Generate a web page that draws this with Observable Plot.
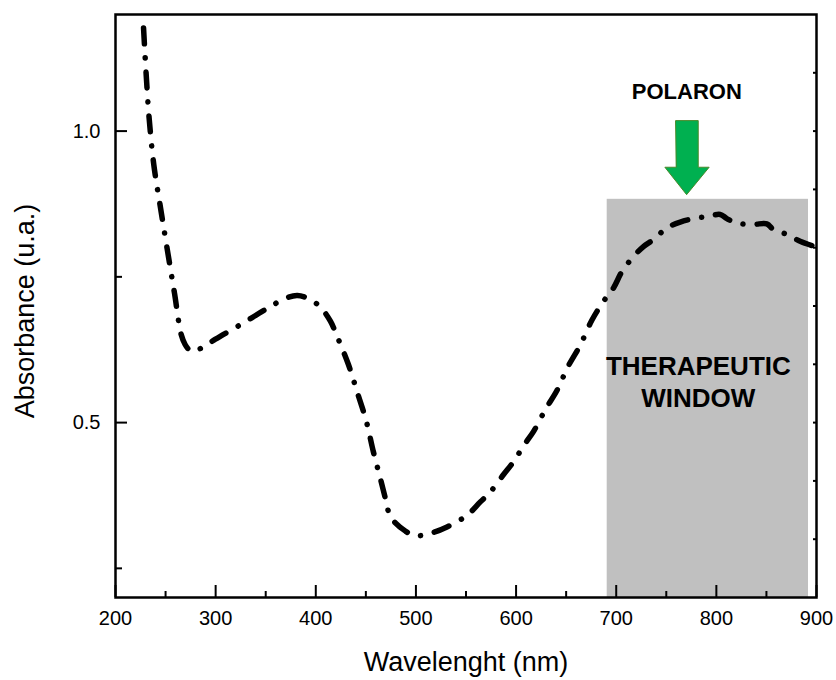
<!DOCTYPE html>
<html>
<head>
<meta charset="utf-8">
<script src="https://cdn.jsdelivr.net/npm/d3@7"></script>
<script src="https://cdn.jsdelivr.net/npm/@observablehq/plot@0.6"></script>
<style>
  body { margin: 0; background: #fff; }
  #chart svg { font-family: "Liberation Sans", Arial, sans-serif; }
</style>
</head>
<body>
<div id="chart"></div>
<script>
// Absorbance spectrum
const wavelength = [228, 230.6, 233.6, 238.2, 244.9, 251.6, 258.9, 265.6, 269.5, 273.5, 277.5, 284.8, 299.8, 324.8, 349.7, 369.7, 381.6, 394.6, 404.6, 414.6, 421.3, 432.5, 441.8, 450.5, 457.5, 464.5, 469.5, 473.5, 480, 489.4, 499.4, 514.4, 531, 551, 564.3, 574.3, 587.5, 597.5, 608.2, 617.5, 629.8, 640.8, 651.8, 664.1, 675.8, 687.3, 697.3, 705.7, 717.3, 727.2, 737.2, 750.6, 763.9, 780.5, 790.5, 803.8, 810.5, 820.5, 837, 850.4, 857, 870.3, 883.6, 898.6];
const absorbance = [1.177, 1.098, 1.022, 0.943, 0.869, 0.798, 0.722, 0.651, 0.634, 0.625, 0.622, 0.627, 0.643, 0.668, 0.694, 0.713, 0.718, 0.711, 0.698, 0.674, 0.648, 0.600, 0.550, 0.502, 0.450, 0.404, 0.370, 0.343, 0.327, 0.314, 0.306, 0.310, 0.321, 0.341, 0.364, 0.381, 0.411, 0.433, 0.462, 0.485, 0.524, 0.555, 0.596, 0.633, 0.676, 0.708, 0.731, 0.759, 0.785, 0.802, 0.814, 0.834, 0.844, 0.851, 0.853, 0.857, 0.850, 0.842, 0.840, 0.841, 0.831, 0.823, 0.811, 0.802];

// Axis ticks
const xMajorTicks = [200, 300, 400, 500, 600, 700, 800, 900];
const xMinorTicks = [250, 350, 450, 550, 650, 750, 850];
const yMajorTicks = [0.5, 1.0];
const yMinorTicks = [0.25, 0.75];
const yRightTicks = [0.3, 0.4, 0.5, 0.6, 0.7, 0.8, 0.9, 1.0, 1.1];

// Therapeutic window band (wavelength range, top absorbance)
const windowRange = [691, 892];
const windowTop = 0.883;

// Polaron arrow outline (wavelength, absorbance)
const arrowX = [759.6, 781.9, 781.9, 792.8, 770.3, 748.6, 759.6];
const arrowY = [1.018, 1.018, 0.938, 0.938, 0.891, 0.938, 0.938];

// Annotation labels
const polaronLabel = {x: 770.5, y: 1.055, text: "POLARON"};
const windowLabel = {x: 782, y: 0.5275, text: "THERAPEUTIC\nWINDOW"};

const spectrum = wavelength.map((w, i) => ({w, a: absorbance[i]}));
const arrow = arrowX.map((x, i) => ({x, y: arrowY[i]}));

const chart = Plot.plot({
  width: 836,
  height: 680,
  marginLeft: 115,
  marginRight: 20,
  marginTop: 14,
  marginBottom: 83,
  x: {domain: [200, 900]},
  y: {domain: [0.2, 1.2]},
  style: {fontFamily: '"Liberation Sans", Arial, sans-serif', background: "#fff"},
  marks: [
    Plot.rect([{x1: windowRange[0], x2: windowRange[1]}], {x1: "x1", x2: "x2", y1: 0.2, y2: windowTop, fill: "#c0c0c0"}),
    Plot.line(spectrum, {x: "w", y: "a", curve: "catmull-rom", stroke: "#000", strokeWidth: 5.5, strokeLinecap: "round", strokeLinejoin: "round", strokeDasharray: "16,14,0.1,14"}),
    Plot.line(arrow, {x: "x", y: "y", curve: "linear-closed", fill: "#00b050", stroke: "#4a8a2c", strokeWidth: 1}),
    Plot.text([polaronLabel], {x: "x", y: "y", text: "text", lineAnchor: "bottom", fontSize: 22, fontWeight: "bold", fill: "#000"}),
    Plot.text([windowLabel], {x: "x", y: "y", text: "text", lineAnchor: "bottom", lineHeight: 1.23, fontSize: 26, fontWeight: "bold", fill: "#000"}),
    Plot.frame({stroke: "#000", strokeWidth: 2.5}),
    // bottom ticks (inward)
    Plot.axisX(xMajorTicks, {anchor: "bottom", tickSize: -12, strokeWidth: 2, fill: "none", label: null}),
    Plot.axisX(xMinorTicks, {anchor: "bottom", tickSize: -6, strokeWidth: 2, fill: "none", label: null}),
    Plot.axisX(xMajorTicks, {anchor: "bottom", tickSize: 0, tickPadding: 13, fontSize: 20, fill: "#000", label: null, tickFormat: d3.format("d")}),
    // left ticks (inward)
    Plot.axisY(yMajorTicks, {anchor: "left", tickSize: -12, strokeWidth: 2, fill: "none", label: null}),
    Plot.axisY(yMinorTicks, {anchor: "left", tickSize: -7, strokeWidth: 2, fill: "none", label: null}),
    Plot.axisY(yMajorTicks, {anchor: "left", tickSize: 0, tickPadding: 15, fontSize: 20, fill: "#000", label: null, tickFormat: d3.format(".1f")}),
    // right ticks (inward, short)
    Plot.axisY(yRightTicks, {anchor: "right", tickSize: -4, strokeWidth: 2, fill: "none", label: null}),
    // axis titles
    Plot.text(["Wavelenght (nm)"], {frameAnchor: "bottom", text: d => d, textAnchor: "middle", lineAnchor: "bottom", dy: 73, fontSize: 27, fill: "#000"}),
    Plot.text(["Absorbance (u.a.)"], {frameAnchor: "left", text: d => d, textAnchor: "middle", rotate: -90, lineAnchor: "bottom", dx: -82, dy: 5, fontSize: 27, fill: "#000"})
  ]
});

document.getElementById("chart").append(chart);
</script>
</body>
</html>
